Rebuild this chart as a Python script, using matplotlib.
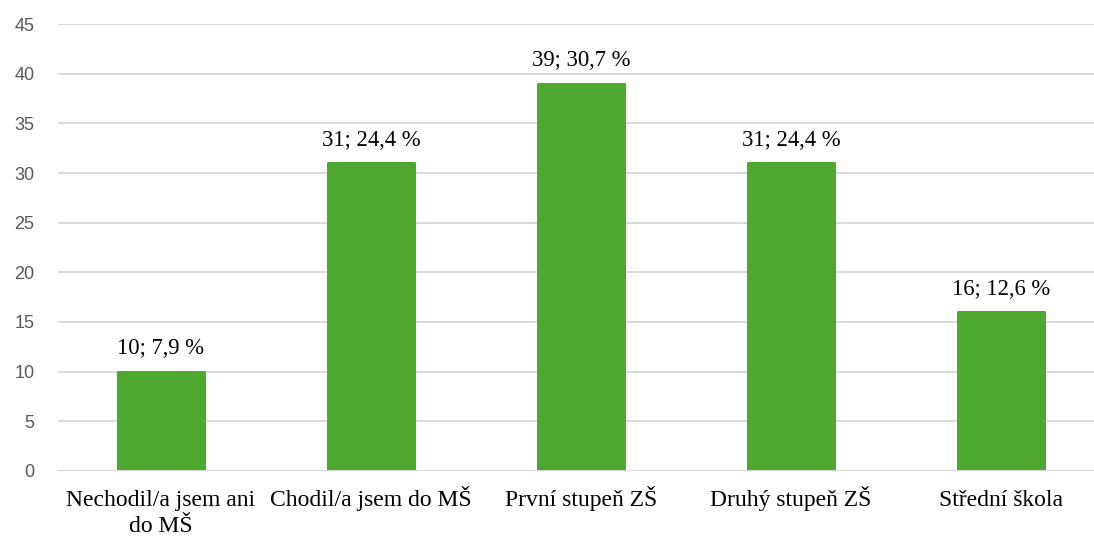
import matplotlib
matplotlib.use("Agg")
import matplotlib.pyplot as plt

categories = ["Nechodil/a jsem ani\ndo MŠ", "Chodil/a jsem do MŠ", "První stupeň ZŠ",
              "Druhý stupeň ZŠ", "Střední škola"]
values = [10, 31, 39, 31, 16]
percents = ["7,9", "24,4", "30,7", "24,4", "12,6"]
yticks = [0, 5, 10, 15, 20, 25, 30, 35, 40, 45]

fig = plt.figure(figsize=(10.94, 5.36), dpi=100)
ax = fig.add_axes([0.053, 0.1213, 0.947, 0.8339])

x = list(range(len(categories)))
green = "#4ea72e"
ax.bar(x, values, width=0.41, color=green, edgecolor=green, linewidth=2.2,
       joinstyle="round", zorder=2)

for xi, v, p in zip(x, values, percents):
    ax.annotate(f"{v}; {p} %", (xi, v), xytext=(0, 9), textcoords="offset points",
                ha="center", va="bottom", fontsize=16.3, family="Liberation Serif",
                color="black")

ax.set_ylim(0, 45)
ax.set_xlim(-0.4905, 4.443)
ax.set_yticks(yticks)
ax.yaxis.grid(True, color="#d9d9d9", linewidth=1.4, zorder=0)
ax.set_axisbelow(True)
ax.axhline(0, color="#d9d9d9", linewidth=1.4, zorder=3)

for s in ax.spines.values():
    s.set_visible(False)
ax.tick_params(axis="y", length=0, pad=17, labelsize=13, labelcolor="#595959")
ax.tick_params(axis="x", length=0)
for lab in ax.get_yticklabels():
    lab.set_family("Liberation Sans")

ax.set_xticks(x)
ax.set_xticklabels([""] * len(categories))
for xi, cat in zip(x, categories):
    for j, line in enumerate(cat.split("\n")):
        ax.annotate(line, xy=(xi, 0), xycoords=("data", "axes fraction"),
                    xytext=(0, -25.5 - j * 18.7), textcoords="offset points",
                    ha="center", va="baseline", fontsize=17,
                    family="Liberation Serif", color="black", annotation_clip=False)

fig.savefig("out.png", dpi=100)
